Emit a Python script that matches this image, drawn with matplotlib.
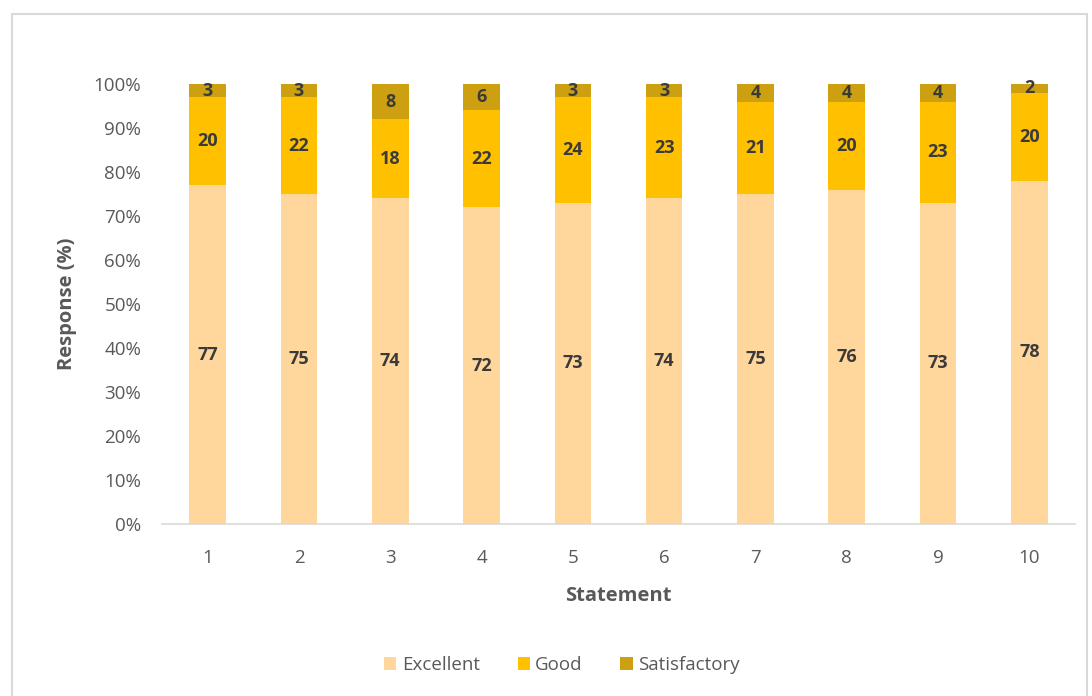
import matplotlib
matplotlib.use("Agg")
import matplotlib.pyplot as plt
from matplotlib.patches import Rectangle
import numpy as np

statements = ["1", "2", "3", "4", "5", "6", "7", "8", "9", "10"]
excellent = [77, 75, 74, 72, 73, 74, 75, 76, 73, 78]
good = [20, 22, 18, 22, 24, 23, 21, 20, 23, 20]
satisfactory = [3, 3, 8, 6, 3, 3, 4, 4, 4, 2]
series_names = ["Excellent", "Good", "Satisfactory"]
colors = ["#FFD79C", "#FFC000", "#CCA010"]

plt.rcParams['font.family'] = ['Open Sans', 'DejaVu Sans']

fig = plt.figure(figsize=(10.92, 6.96), dpi=100)
fig.patches.append(Rectangle((12/1092, -0.01), (1087-12)/1092, 1 - 14/696 + 0.01,
                             transform=fig.transFigure, fill=False,
                             edgecolor="#D9D9D9", linewidth=1.5))
ax = fig.add_axes([162/1092, 1 - 524/696, (1075-162)/1092, (524-84)/696])

x = np.arange(len(statements))
bottom = np.zeros(len(statements))
handles = []
tot = np.array(excellent) + np.array(good) + np.array(satisfactory)
for vals, name, col in zip([excellent, good, satisfactory], series_names, colors):
    vals = np.array(vals, dtype=float)
    frac = vals / tot * 100
    b = ax.bar(x, frac, 0.4, bottom=bottom, color=col, label=name)
    handles.append(b)
    for xi, bi, fi, v in zip(x, bottom, frac, vals):
        ax.text(xi, bi + fi / 2, f"{int(v)}", ha="center", va="center",
                fontsize=13, fontweight="bold", color="#3A3A3A")
    bottom += frac

ax.set_xlim(-0.5, len(statements) - 0.5)
ax.set_ylim(0, 100)
ax.set_yticks(np.arange(0, 101, 10))
ax.set_yticklabels([f"{v}%" for v in range(0, 101, 10)])
ax.set_xticks(x)
ax.set_xticklabels(statements)
ax.tick_params(axis="both", length=0, labelsize=13.5, labelcolor="#595959")
ax.tick_params(axis="y", pad=15)
ax.tick_params(axis="x", pad=18)
for s in ["top", "right", "left"]:
    ax.spines[s].set_visible(False)
ax.spines["bottom"].set_color("#D9D9D9")
ax.spines["bottom"].set_linewidth(1.2)

ax.set_xlabel("Statement", fontsize=14.5, fontweight="bold", color="#595959", labelpad=14)
ax.set_ylabel("Response (%)", fontsize=14.5, fontweight="bold", color="#595959", labelpad=12)

fig.legend(handles=handles, labels=series_names, loc="center", bbox_to_anchor=(562/1092, 1 - 665/696),
           ncol=3, frameon=False, fontsize=13.5, labelcolor="#595959",
           handlelength=0.65, handleheight=0.65, handletextpad=0.3, columnspacing=2.0)

fig.savefig("out.png", dpi=100)
